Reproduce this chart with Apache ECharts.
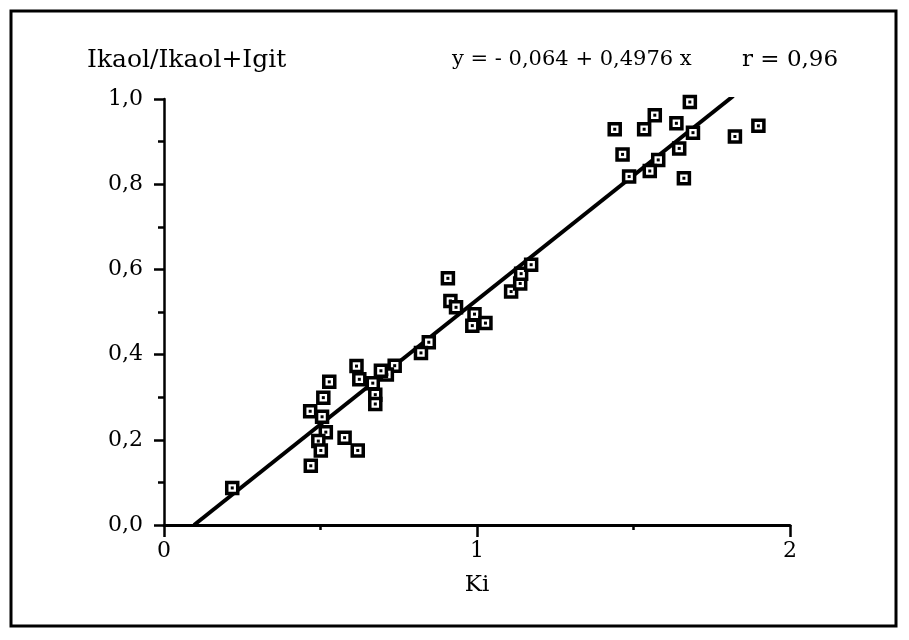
<!DOCTYPE html>
<html>
<head>
<meta charset="utf-8">
<script src="https://cdn.jsdelivr.net/npm/echarts@6/dist/echarts.min.js"></script>
<style>
  html, body { margin: 0; padding: 0; background: #ffffff; }
  #chart { width: 909px; height: 640px; }
</style>
</head>
<body>
<div id="chart"></div>
<script>
// Ki values (x) and Ikaol/(Ikaol+Igit) ratios (y) for each sample
const kiValues = [
  1.680, 1.568, 1.440, 1.534, 1.637, 1.690, 1.899, 1.824, 1.465, 1.646, 1.579, 1.552, 1.486, 1.661,
  0.907, 0.915, 0.933, 0.992, 0.985, 1.027, 1.109, 1.138, 1.141, 1.173,
  0.846, 0.821, 0.737, 0.712, 0.693, 0.667, 0.675, 0.675, 0.615, 0.624,
  0.528, 0.509, 0.467, 0.505, 0.517, 0.493, 0.577, 0.501, 0.619, 0.469,
  0.218
];
const ratioValues = [
  0.993, 0.962, 0.929, 0.929, 0.943, 0.921, 0.937, 0.912, 0.870, 0.884, 0.857, 0.831, 0.818, 0.814,
  0.579, 0.526, 0.511, 0.495, 0.468, 0.474, 0.548, 0.567, 0.590, 0.611,
  0.429, 0.404, 0.374, 0.353, 0.362, 0.333, 0.306, 0.284, 0.373, 0.342,
  0.336, 0.299, 0.267, 0.254, 0.218, 0.197, 0.205, 0.175, 0.175, 0.139,
  0.087
];

// Fitted line, drawn between its two end points
const fitLineX = [0.096, 1.819];
const fitLineY = [0.0, 1.007];

// Axis ticks
const xTicks = [0, 1, 2];
const yTicks = [0.0, 0.2, 0.4, 0.6, 0.8, 1.0];

const yLabel = 'Ikaol/Ikaol+Igit';
const xLabel = 'Ki';
const equationText = 'y = - 0,064 + 0,4976 x';
const corrText = 'r = 0,96';

const points = kiValues.map((x, i) => [x, ratioValues[i]]);
const fitLine = fitLineX.map((x, i) => [x, fitLineY[i]]);

const serif = 'DejaVu Serif';
const fmtComma = (v, d) => v.toFixed(d).replace('.', ',');

const chart = echarts.init(document.getElementById('chart'), null, { renderer: 'canvas' });

chart.setOption({
  backgroundColor: '#ffffff',
  animation: false,
  grid: { left: 164, right: 119, top: 99, bottom: 115 },
  xAxis: {
    type: 'value',
    min: xTicks[0],
    max: xTicks[xTicks.length - 1],
    interval: 1,
    name: xLabel,
    nameLocation: 'middle',
    nameGap: 49,
    nameTextStyle: { fontFamily: serif, fontSize: 23, color: '#000' },
    axisLine: { onZero: false, lineStyle: { color: '#000', width: 3 } },
    axisTick: { length: 12, lineStyle: { color: '#000', width: 2.5 } },
    minorTick: { show: true, splitNumber: 2, length: 5, lineStyle: { color: '#000', width: 2.5 } },
    splitLine: { show: false },
    axisLabel: {
      margin: 15,
      fontFamily: serif, fontSize: 22, color: '#000',
      formatter: v => String(v)
    }
  },
  yAxis: {
    type: 'value',
    min: yTicks[0],
    max: yTicks[yTicks.length - 1],
    interval: 0.2,
    axisLine: { onZero: false, lineStyle: { color: '#000', width: 2.5 } },
    axisTick: { length: 10, lineStyle: { color: '#000', width: 2.5 } },
    minorTick: { show: true, splitNumber: 2, length: 6, lineStyle: { color: '#000', width: 2.5 } },
    splitLine: { show: false },
    axisLabel: {
      margin: 21,
      fontFamily: serif, fontSize: 22, color: '#000',
      formatter: v => fmtComma(v, 1)
    }
  },
  series: [
    {
      type: 'line',
      data: fitLine,
      symbol: 'none',
      lineStyle: { color: '#000', width: 4 },
      z: 2
    },
    {
      // open square markers
      type: 'scatter',
      data: points,
      symbol: 'rect',
      symbolSize: 11,
      itemStyle: { color: '#ffffff', borderColor: '#000', borderWidth: 3.5, opacity: 1 },
      z: 3
    },
    {
      // centre dot of each marker
      type: 'scatter',
      data: points,
      symbol: 'rect',
      symbolSize: 3,
      itemStyle: { color: '#000', opacity: 1 },
      z: 4
    }
  ],
  graphic: [
    {
      type: 'rect',
      shape: { x: 11, y: 11, width: 885, height: 615 },
      style: { fill: 'none', stroke: '#000', lineWidth: 3 },
      silent: true
    },
    {
      type: 'text',
      x: 87, y: 60,
      style: { text: yLabel, font: '25px "DejaVu Serif"', fill: '#000', verticalAlign: 'middle' }
    },
    {
      type: 'text',
      x: 452, y: 60,
      style: { text: equationText, font: '21px "DejaVu Serif"', fill: '#000', verticalAlign: 'middle' }
    },
    {
      type: 'text',
      x: 742, y: 60,
      style: { text: corrText, font: '23px "DejaVu Serif"', fill: '#000', verticalAlign: 'middle' }
    }
  ]
});
</script>
</body>
</html>
